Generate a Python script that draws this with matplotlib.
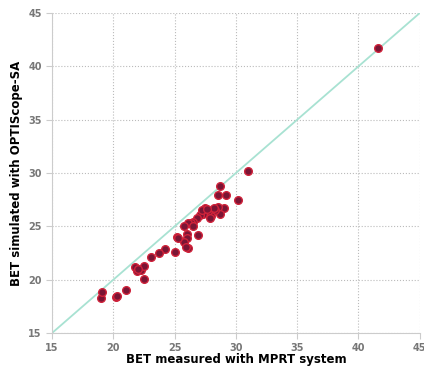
import matplotlib.pyplot as plt

# BET measured (x) vs simulated (y)
bet_measured = [41.6, 31.0, 28.7, 28.5, 29.2, 30.2, 29.0, 28.55, 28.7, 28.3,
                28.0, 27.7, 27.5, 27.3, 27.1, 27.2, 26.8, 26.5, 26.3, 26.1,
                26.5, 25.8, 26.0, 26.0, 26.9, 25.75, 25.15, 25.3, 26.1, 25.9,
                25.0, 24.2, 23.7, 23.1, 22.5, 21.8, 21.9, 22.25, 22.5, 22.0,
                21.0, 20.2, 20.3, 19.0, 19.1, 27.9, 28.2, 27.6]
bet_simulated = [41.7, 30.2, 28.8, 27.9, 27.9, 27.5, 26.7, 26.8, 26.2, 26.5,
                 26.0, 26.4, 26.7, 26.2, 26.1, 26.5, 25.75, 25.4, 25.3, 25.3,
                 25.05, 25.0, 24.3, 23.9, 24.2, 23.55, 24.0, 23.9, 23.0, 23.1,
                 22.6, 22.9, 22.5, 22.1, 20.1, 21.2, 20.8, 20.9, 21.3, 21.0,
                 19.0, 18.4, 18.45, 18.3, 18.8, 25.8, 26.7, 26.6]
ticks = [15, 20, 25, 30, 35, 40, 45]

fig = plt.figure(figsize=(4.24, 3.72), dpi=100)
ax = fig.add_axes([0.123, 0.105, 0.867, 0.86])

ax.plot([15, 45], [15, 45], color='#a8e2d2', linewidth=1.3, zorder=2)
ax.plot(bet_measured, bet_simulated, 'o', markersize=5.5,
        markerfacecolor='#7a1535', markeredgecolor='#d0223a',
        markeredgewidth=1.0, zorder=3)

ax.set_xlim(15, 45)
ax.set_ylim(15, 45)
ax.set_xticks(ticks)
ax.set_yticks(ticks)
ax.grid(True, linestyle=':', color='#bbbbbb', linewidth=0.8)
ax.set_axisbelow(True)
for s in ['top', 'right']:
    ax.spines[s].set_visible(False)
for s in ['left', 'bottom']:
    ax.spines[s].set_color('#cccccc')
ax.tick_params(colors='#cccccc', labelcolor='#777777', labelsize=7, length=4)
for lab in ax.get_xticklabels() + ax.get_yticklabels():
    lab.set_fontweight('bold')

ax.set_xlabel('BET measured with MPRT system', fontsize=8.5, fontweight='bold', labelpad=0)
ax.set_ylabel('BET simulated with OPTIScope-SA', fontsize=8.5, fontweight='bold', labelpad=4)

plt.savefig('out.png')
